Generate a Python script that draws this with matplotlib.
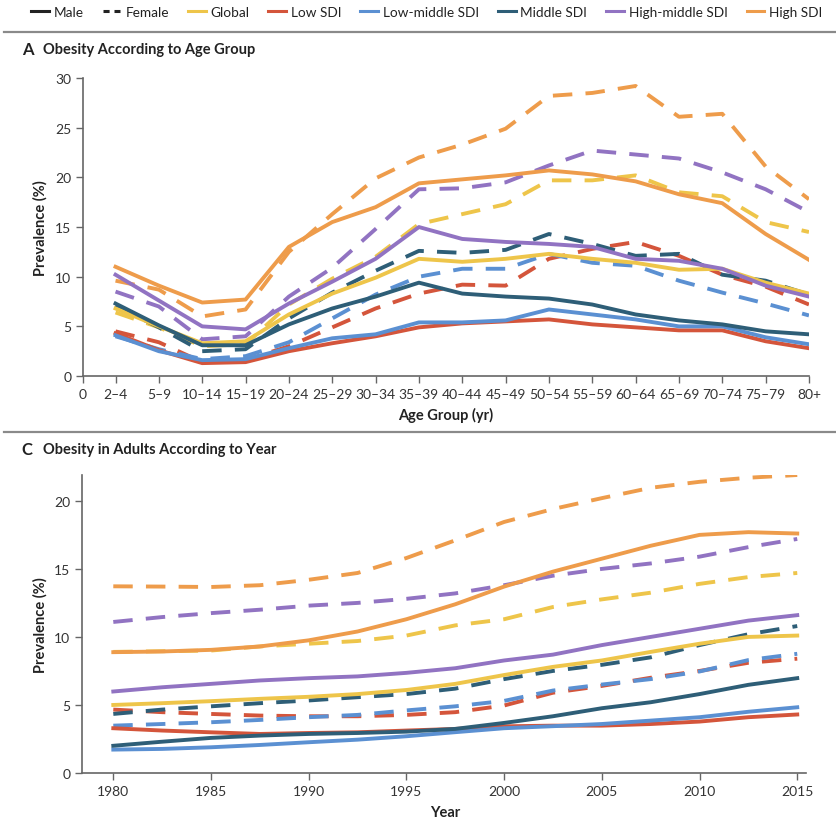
import matplotlib
matplotlib.use("Agg")
import matplotlib.pyplot as plt
from matplotlib.lines import Line2D

plt.rcParams['font.family'] = ['Lato', 'DejaVu Sans']

# colours per group
groups = ['Global', 'Low SDI', 'Low-middle SDI', 'Middle SDI', 'High-middle SDI', 'High SDI']
colors = ['#EEC54A', '#D4553B', '#5B90D2', '#2E5E77', '#9173C2', '#EE9C4B']

# panel A: prevalence by age group
age_groups = ['2–4', '5–9', '10–14', '15–19', '20–24', '25–29', '30–34', '35–39', '40–44',
              '45–49', '50–54', '55–59', '60–64', '65–69', '70–74', '75–79', '80+']

age_male = {
    'Global':          [6.8, 5.0, 3.3, 3.5, 6.2, 8.3, 9.9, 11.8, 11.5, 11.8, 12.3, 11.8, 11.4, 10.7, 10.8, 9.4, 8.3],
    'Low SDI':         [4.3, 2.6, 1.3, 1.4, 2.5, 3.3, 4.0, 4.9, 5.3, 5.5, 5.7, 5.2, 4.9, 4.6, 4.6, 3.5, 2.8],
    'Low-middle SDI':  [4.1, 2.5, 1.6, 1.7, 2.8, 3.8, 4.2, 5.4, 5.4, 5.6, 6.7, 6.2, 5.7, 5.0, 5.0, 3.9, 3.2],
    'Middle SDI':      [7.3, 5.1, 3.1, 3.1, 5.2, 6.8, 8.0, 9.4, 8.3, 8.0, 7.8, 7.2, 6.2, 5.6, 5.2, 4.5, 4.2],
    'High-middle SDI': [10.2, 7.6, 5.0, 4.7, 7.3, 9.5, 11.8, 15.0, 13.8, 13.5, 13.3, 13.0, 11.8, 11.6, 10.8, 9.1, 8.0],
    'High SDI':        [11.0, 9.1, 7.4, 7.7, 13.0, 15.5, 17.0, 19.4, 19.8, 20.2, 20.7, 20.3, 19.6, 18.3, 17.4, 14.3, 11.7],
}
age_female = {
    'Global':          [6.4, 4.9, 3.0, 3.2, 7.2, 9.8, 12.0, 15.3, 16.3, 17.3, 19.7, 19.7, 20.2, 18.5, 18.1, 15.5, 14.5],
    'Low SDI':         [4.5, 3.4, 1.4, 1.6, 3.0, 4.9, 6.8, 8.3, 9.2, 9.1, 11.8, 12.8, 13.5, 12.1, 10.2, 9.0, 7.2],
    'Low-middle SDI':  [4.0, 2.7, 1.7, 2.0, 3.4, 5.8, 8.2, 10.0, 10.8, 10.8, 12.3, 11.4, 11.1, 9.6, 8.4, 7.3, 6.1],
    'Middle SDI':      [7.1, 4.9, 2.5, 2.7, 5.8, 8.4, 10.6, 12.6, 12.4, 12.7, 14.3, 13.3, 12.1, 12.3, 10.2, 9.6, 8.2],
    'High-middle SDI': [8.5, 7.0, 3.7, 4.0, 8.0, 10.9, 14.8, 18.8, 18.9, 19.5, 21.2, 22.7, 22.3, 21.9, 20.5, 18.8, 16.5],
    'High SDI':        [9.6, 8.7, 6.0, 6.7, 12.5, 16.3, 19.9, 22.0, 23.3, 24.9, 28.2, 28.5, 29.2, 26.1, 26.4, 21.1, 17.8],
}

# panel C: adult prevalence by year
years = [1980, 1982.5, 1985, 1987.5, 1990, 1992.5, 1995, 1997.5, 2000, 2002.5, 2005, 2007.5, 2010, 2012.5, 2015]

year_male = {
    'Global':          [5.0, 5.13, 5.28, 5.45, 5.6, 5.8, 6.1, 6.55, 7.2, 7.8, 8.27, 8.9, 9.5, 10.0, 10.1],
    'Low SDI':         [3.29, 3.12, 2.99, 2.87, 2.94, 2.99, 3.12, 3.24, 3.43, 3.48, 3.48, 3.6, 3.78, 4.1, 4.3],
    'Low-middle SDI':  [1.72, 1.77, 1.89, 2.06, 2.26, 2.45, 2.7, 3.0, 3.29, 3.44, 3.6, 3.85, 4.1, 4.5, 4.83],
    'Middle SDI':      [2.0, 2.3, 2.58, 2.75, 2.87, 2.94, 3.04, 3.24, 3.68, 4.17, 4.76, 5.2, 5.8, 6.48, 6.97],
    'High-middle SDI': [5.99, 6.3, 6.55, 6.8, 6.97, 7.1, 7.36, 7.7, 8.27, 8.7, 9.4, 10.0, 10.6, 11.2, 11.6],
    'High SDI':        [8.88, 8.93, 9.05, 9.3, 9.75, 10.4, 11.3, 12.4, 13.7, 14.8, 15.75, 16.7, 17.5, 17.7, 17.6],
}
year_female = {
    'Global':          [8.9, 8.95, 9.0, 9.3, 9.5, 9.7, 10.1, 10.85, 11.3, 12.2, 12.76, 13.25, 13.9, 14.4, 14.7],
    'Low SDI':         [4.66, 4.47, 4.34, 4.22, 4.17, 4.17, 4.27, 4.47, 4.96, 5.9, 6.4, 7.0, 7.5, 8.1, 8.4],
    'Low-middle SDI':  [3.48, 3.6, 3.73, 3.9, 4.1, 4.27, 4.6, 4.9, 5.3, 6.06, 6.5, 6.9, 7.46, 8.3, 8.76],
    'Middle SDI':      [4.34, 4.66, 4.9, 5.13, 5.33, 5.57, 5.8, 6.2, 6.9, 7.5, 7.95, 8.5, 9.4, 10.2, 10.8],
    'High-middle SDI': [11.1, 11.46, 11.75, 12.0, 12.3, 12.5, 12.8, 13.2, 13.8, 14.5, 15.0, 15.4, 15.9, 16.6, 17.2],
    'High SDI':        [13.72, 13.7, 13.67, 13.8, 14.2, 14.7, 15.8, 17.1, 18.45, 19.4, 20.2, 20.96, 21.4, 21.7, 21.9],
}

lw = 2.8
dash = (5.0, 3.4)
age_pos = [0.75 + i for i in range(len(age_groups))]

fig = plt.figure(figsize=(8.37, 8.20), dpi=100)
axA = fig.add_axes([0.0992, 0.5402, 0.8673, 0.3634])
axC = fig.add_axes([0.0980, 0.0561, 0.8650, 0.3634])

for g, c in zip(groups, colors):
    axA.plot(age_pos, age_female[g], color=c, lw=lw, dashes=dash)
    axC.plot(years, year_female[g], color=c, lw=lw, dashes=dash)
for g, c in zip(groups, colors):
    axA.plot(age_pos, age_male[g], color=c, lw=lw)
    axC.plot(years, year_male[g], color=c, lw=lw)

for ax in (axA, axC):
    for s in ('top', 'right'):
        ax.spines[s].set_visible(False)
    for s in ('left', 'bottom'):
        ax.spines[s].set_color('#666666')
        ax.spines[s].set_linewidth(1.2)
    ax.tick_params(direction='out', length=5, width=1, color='#666666',
                   labelsize=10, labelcolor='#333333')

axA.set_xlim(0, age_pos[-1])
axA.set_ylim(0, 30)
axA.set_xticks([0] + age_pos)
axA.set_xticklabels(['0'] + age_groups)
axA.set_yticks(range(0, 31, 5))

axC.set_xlim(1978.4, 2015.45)
axC.set_ylim(0, 21.9)
axC.set_xticks(range(1980, 2016, 5))
axC.set_yticks(range(0, 21, 5))

# axis labels
lab = dict(fontsize=10.5, fontweight='bold', color='#222222')
fig.text(0.048, 0.5402 + 0.3634 / 2, 'Prevalence (%)', rotation=90, ha='center', va='center', **lab)
fig.text(0.048, 0.0561 + 0.3634 / 2, 'Prevalence (%)', rotation=90, ha='center', va='center', **lab)
fig.text(0.532, 1 - 415 / 820, 'Age Group (yr)', ha='center', va='center', **lab)
fig.text(0.532, 1 - 813 / 820, 'Year', ha='center', va='center', **lab)

# panel titles
fig.text(0.026, 1 - 50 / 820, 'A', ha='left', va='center', fontsize=12, fontweight='bold', color='#222222')
fig.text(0.051, 1 - 50 / 820, 'Obesity According to Age Group', ha='left', va='center', **lab)
fig.text(0.026, 1 - 450 / 820, 'C', ha='left', va='center', fontsize=12, fontweight='bold', color='#222222')
fig.text(0.051, 1 - 450 / 820, 'Obesity in Adults According to Year', ha='left', va='center', **lab)

# separator rules
for yy in (1 - 33 / 820, 1 - 433 / 820):
    fig.add_artist(Line2D([0.005, 1.0], [yy, yy], color='#8a8a8a', lw=1.6))

# legend
handles = [Line2D([], [], color='#222222', lw=2.2),
           Line2D([], [], color='#222222', lw=2.2, dashes=(2.0, 1.6))]
labels = ['Male', 'Female']
for g, c in zip(groups, colors):
    handles.append(Line2D([], [], color=c, lw=2.2))
    labels.append(g)
fig.legend(handles, labels, loc='center', bbox_to_anchor=(0.51, 1 - 13 / 820), ncol=8,
           frameon=False, fontsize=9.8, handlelength=1.3, handletextpad=0.35,
           columnspacing=1.4, labelcolor='#222222')

fig.savefig('out.png', dpi=100)
